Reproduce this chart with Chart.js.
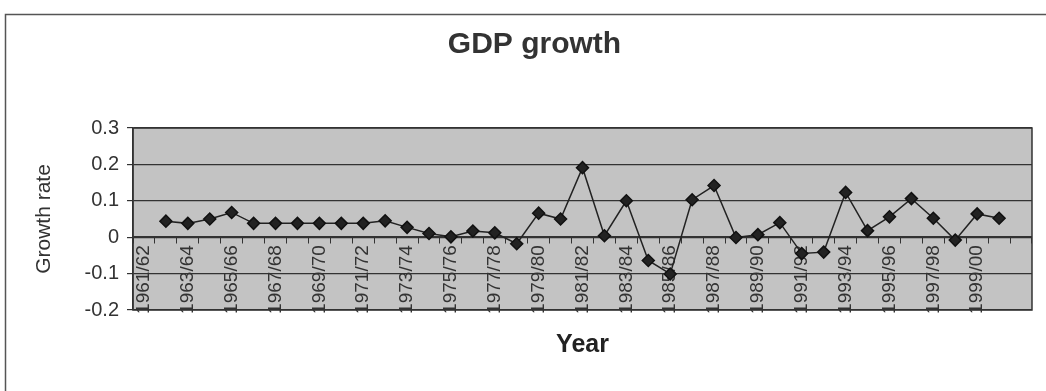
<!DOCTYPE html>
<html lang="en">
<head>
    <meta charset="UTF-8" />
    <title>GDP growth</title>
    <script src="https://cdn.jsdelivr.net/npm/chart.js"></script>
    <style>
        html, body { margin: 0; padding: 0; background: #fff; }
        #wrap { position: relative; width: 1046px; height: 391px; }
    </style>
</head>
<body>
<div id="wrap"><canvas id="grafico-gdp"></canvas></div>

<script>
    // years on the category axis (last slot is empty, as in the sheet)
    const years = [
        '1961/62', '1962/63', '1963/64', '1964/65', '1965/66', '1966/67', '1967/68', '1968/69',
        '1969/70', '1970/71', '1971/72', '1972/73', '1973/74', '1974/75', '1975/76', '1976/77',
        '1977/78', '1978/79', '1979/80', '1980/81', '1981/82', '1982/83', '1983/84', '1984/85',
        '1985/86', '1986/87', '1987/88', '1988/89', '1989/90', '1990/91', '1991/92', '1992/93',
        '1993/94', '1994/95', '1995/96', '1996/97', '1997/98', '1998/99', '1999/00', '2000/01', ''
    ];

    // growth rate
    const growth = [
        null, 0.044, 0.038, 0.050, 0.068, 0.038, 0.038, 0.038, 0.038, 0.038,
        0.038, 0.045, 0.027, 0.010, 0.001, 0.017, 0.012, -0.018, 0.066, 0.050,
        0.191, 0.004, 0.100, -0.064, -0.101, 0.103, 0.142, -0.001, 0.007, 0.040,
        -0.045, -0.041, 0.123, 0.018, 0.056, 0.106, 0.052, -0.008, 0.064, 0.052,
        null
    ];

    const yTicks = [-0.2, -0.1, 0, 0.1, 0.2, 0.3];

    const fonte = 'Liberation Sans, Arial, sans-serif';

    const fundo = {
        id: 'fundo',
        beforeDraw(chart) {
            const { ctx, chartArea: a } = chart;
            ctx.save();
            ctx.fillStyle = '#fff';
            ctx.fillRect(0, 0, chart.width, chart.height);
            ctx.fillStyle = '#c3c3c3';
            ctx.fillRect(a.left, a.top, a.right - a.left, a.bottom - a.top);
            // outer frame
            ctx.strokeStyle = '#555';
            ctx.lineWidth = 1.5;
            ctx.beginPath();
            ctx.moveTo(5.5, chart.height);
            ctx.lineTo(5.5, 14.5);
            ctx.lineTo(chart.width, 14.5);
            ctx.stroke();
            ctx.restore();
        },
        beforeDatasetsDraw(chart) {
            const { ctx, chartArea: a } = chart;
            ctx.save();
            ctx.strokeStyle = '#333';
            ctx.lineWidth = 1.5;
            ctx.strokeRect(a.left, a.top, a.right - a.left, a.bottom - a.top);
            ctx.restore();
        }
    };

    new Chart(document.getElementById('grafico-gdp'), {
        type: 'line',
        data: {
            labels: years,
            datasets: [{
                label: 'Growth rate',
                data: growth,
                borderColor: '#222',
                borderWidth: 1.5,
                backgroundColor: '#222',
                pointStyle: 'rectRot',
                pointRadius: 6,
                pointBorderColor: '#111',
                tension: 0
            }]
        },
        options: {
            responsive: true,
            maintainAspectRatio: false,
            animation: false,
            layout: { padding: { left: 30, right: 7, top: 0, bottom: 0 } },
            plugins: {
                legend: { display: false },
                tooltip: { enabled: false },
                title: {
                    display: true,
                    text: 'GDP growth',
                    color: '#333',
                    font: { family: fonte, size: 30, weight: 'bold' },
                    padding: { top: 27, bottom: 65 }
                }
            },
            scales: {
                x: {
                    type: 'category',
                    position: { y: 0 },
                    offset: true,
                    border: { display: true, color: '#333', width: 1.5 },
                    grid: { drawOnChartArea: false, drawTicks: true, tickLength: 6, color: '#333', offset: true },
                    ticks: {
                        autoSkip: false,
                        minRotation: 90,
                        maxRotation: 90,
                        padding: 2,
                        color: '#333',
                        font: { family: fonte, size: 19 },
                        callback: function (v, i) { return i % 2 === 0 ? years[i] : ''; }
                    }
                },
                xTitulo: {
                    type: 'category',
                    position: 'bottom',
                    offset: true,
                    grid: { display: false },
                    border: { display: false },
                    ticks: { display: false },
                    title: {
                        display: true,
                        text: 'Year',
                        color: '#222',
                        font: { family: fonte, size: 25, weight: 'bold' },
                        padding: { top: 12, bottom: 31 }
                    }
                },
                y: {
                    min: -0.2,
                    max: 0.3,
                    afterFit: function (s) { s.width = 103; },
                    afterBuildTicks: function (s) { s.ticks = yTicks.map(v => ({ value: v })); },
                    border: { display: true, color: '#333', width: 1.5 },
                    grid: { color: '#333', lineWidth: 1.2, drawTicks: true, tickLength: 6 },
                    title: {
                        display: true,
                        text: 'Growth rate',
                        color: '#333',
                        font: { family: fonte, size: 21 },
                        padding: { top: 2, bottom: 0 }
                    },
                    ticks: {
                        color: '#333',
                        padding: 8,
                        font: { family: fonte, size: 20 },
                        callback: function (v) { return String(Math.round(v * 10) / 10); }
                    }
                }
            }
        },
        plugins: [fundo]
    });
</script>
</body>
</html>
